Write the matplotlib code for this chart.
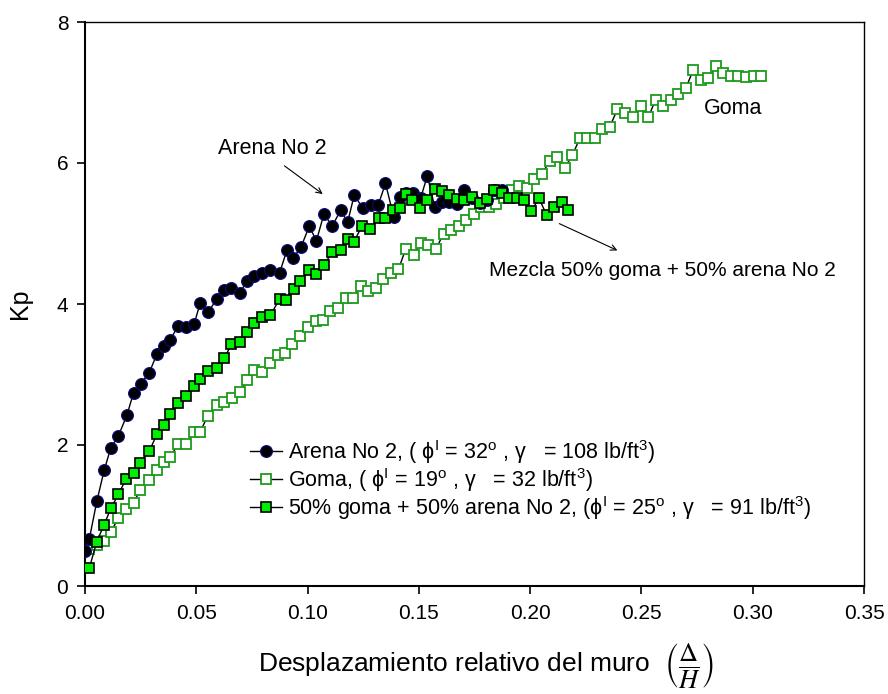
import matplotlib
matplotlib.use('Agg')
import matplotlib.pyplot as plt
import numpy as np

plt.rcParams['font.family'] = ['Liberation Sans', 'DejaVu Sans']
plt.rcParams['mathtext.fontset'] = 'custom'
plt.rcParams['mathtext.rm'] = 'Liberation Sans'
plt.rcParams['mathtext.it'] = 'Liberation Sans:italic'

# Arena No 2
arena_x = [0.000, 0.0019, 0.0053, 0.0086, 0.0116, 0.0150, 0.0188, 0.0218, 0.0250, 0.0288,
           0.0323, 0.0353, 0.0383, 0.0418, 0.0455, 0.0490, 0.0518, 0.0551, 0.0593, 0.0626,
           0.0658, 0.0695, 0.0728, 0.0761, 0.0796, 0.0833, 0.0874, 0.0908, 0.0935, 0.0971,
           0.1007, 0.1040, 0.1073, 0.1112, 0.1148, 0.1180, 0.1210, 0.1247, 0.1286, 0.1317,
           0.1350, 0.1387, 0.1417, 0.1441, 0.1474, 0.1508, 0.1538, 0.1571, 0.1604, 0.1637,
           0.1672, 0.1705, 0.1739, 0.1776, 0.1807, 0.1837, 0.1874]
arena_y = [0.50, 0.66, 1.20, 1.64, 1.96, 2.13, 2.42, 2.74, 2.87, 3.02,
           3.29, 3.41, 3.49, 3.69, 3.68, 3.71, 4.02, 3.88, 4.07, 4.20,
           4.23, 4.16, 4.32, 4.40, 4.44, 4.48, 4.44, 4.77, 4.65, 4.81,
           5.10, 4.90, 5.27, 5.11, 5.33, 5.16, 5.55, 5.36, 5.40, 5.40,
           5.71, 5.24, 5.52, 5.58, 5.58, 5.50, 5.82, 5.38, 5.45, 5.45,
           5.42, 5.61, 5.50, 5.43, 5.48, 5.62, 5.62]

# Goma
goma_x = [0.0019, 0.0053, 0.0086, 0.0116, 0.0150, 0.0185, 0.0218, 0.0248, 0.0288, 0.0323,
          0.0353, 0.0383, 0.0418, 0.0455, 0.0490, 0.0518, 0.0551, 0.0593, 0.0626, 0.0660,
          0.0695, 0.0728, 0.0761, 0.0796, 0.0833, 0.0866, 0.0899, 0.0932, 0.0968, 0.1001,
          0.1036, 0.1068, 0.1103, 0.1136, 0.1171, 0.1205, 0.1238, 0.1273, 0.1306, 0.1339,
          0.1373, 0.1408, 0.1441, 0.1478, 0.1508, 0.1543, 0.1577, 0.1611, 0.1644, 0.1679,
          0.1712, 0.1746, 0.1779, 0.1813, 0.1846, 0.1884, 0.1917, 0.1951, 0.1985, 0.2019,
          0.2053, 0.2087, 0.2121, 0.2155, 0.2190, 0.2223, 0.2257, 0.2290, 0.2324, 0.2357,
          0.2392, 0.2425, 0.2460, 0.2496, 0.2531, 0.2564, 0.2598, 0.2631, 0.2666, 0.2699,
          0.2733, 0.2768, 0.2801, 0.2835, 0.2868, 0.2901, 0.2935, 0.2970, 0.3006, 0.3037]
goma_y = [0.53, 0.58, 0.64, 0.77, 0.96, 1.09, 1.18, 1.36, 1.50, 1.65,
          1.76, 1.83, 2.01, 2.01, 2.19, 2.19, 2.41, 2.57, 2.61, 2.66,
          2.75, 2.92, 3.07, 3.03, 3.16, 3.28, 3.30, 3.43, 3.54, 3.67,
          3.76, 3.77, 3.90, 3.94, 4.08, 4.08, 4.26, 4.18, 4.23, 4.36,
          4.44, 4.49, 4.78, 4.70, 4.87, 4.83, 4.78, 5.00, 5.05, 5.11,
          5.19, 5.28, 5.37, 5.37, 5.42, 5.51, 5.62, 5.67, 5.65, 5.77,
          5.84, 6.03, 6.08, 5.93, 6.11, 6.35, 6.35, 6.35, 6.48, 6.51,
          6.76, 6.71, 6.65, 6.81, 6.65, 6.90, 6.81, 6.90, 6.98, 7.06,
          7.32, 7.18, 7.20, 7.38, 7.27, 7.23, 7.23, 7.22, 7.24, 7.23]

# 50% goma + 50% arena No 2
mezcla_x = [0.0019, 0.0053, 0.0086, 0.0116, 0.0150, 0.0185, 0.0218, 0.0248, 0.0288, 0.0323,
            0.0353, 0.0383, 0.0418, 0.0455, 0.0490, 0.0518, 0.0551, 0.0593, 0.0626, 0.0658,
            0.0695, 0.0728, 0.0761, 0.0796, 0.0833, 0.0874, 0.0905, 0.0938, 0.0968, 0.1007,
            0.1040, 0.1073, 0.1112, 0.1148, 0.1181, 0.1208, 0.1245, 0.1282, 0.1320, 0.1350,
            0.1384, 0.1417, 0.1441, 0.1470, 0.1505, 0.1538, 0.1571, 0.1605, 0.1637, 0.1672,
            0.1705, 0.1739, 0.1774, 0.1807, 0.1837, 0.1874, 0.1904, 0.1939, 0.1972, 0.2005,
            0.2040, 0.2074, 0.2107, 0.2141, 0.2172]
mezcla_y = [0.25, 0.63, 0.87, 1.10, 1.30, 1.52, 1.60, 1.75, 1.91, 2.15,
            2.28, 2.44, 2.59, 2.69, 2.84, 2.94, 3.05, 3.09, 3.23, 3.43,
            3.46, 3.60, 3.73, 3.81, 3.84, 4.07, 4.06, 4.21, 4.32, 4.48,
            4.43, 4.55, 4.74, 4.76, 4.92, 4.88, 5.11, 5.07, 5.22, 5.22,
            5.33, 5.36, 5.56, 5.48, 5.36, 5.48, 5.63, 5.60, 5.55, 5.49,
            5.48, 5.52, 5.43, 5.49, 5.62, 5.58, 5.51, 5.51, 5.48, 5.32,
            5.50, 5.26, 5.38, 5.44, 5.34]

labels = [r'Arena No 2, ( ϕ$^{\rm I}$ = 32$^{\rm o}$ , γ   = 108 lb/ft$^{3}$)',
          r'Goma, ( ϕ$^{\rm I}$ = 19$^{\rm o}$ , γ   = 32 lb/ft$^{3}$)',
          r'50% goma + 50% arena No 2, (ϕ$^{\rm I}$ = 25$^{\rm o}$ , γ   = 91 lb/ft$^{3}$)']

fig = plt.figure(figsize=(8.88, 6.94), dpi=100)
ax = fig.add_axes([85 / 888, 1 - 586 / 694, 779 / 888, 564 / 694])

ax.plot(arena_x, arena_y, color='black', lw=1, marker='o', ms=8.5,
        mfc='black', mec='#0a0a80', mew=0.8, label=labels[0], zorder=3)
ax.plot(goma_x, goma_y, color='black', lw=1, marker='s', ms=6.5,
        mfc='white', mec='#1e9a1e', mew=1.3, label=labels[1], zorder=2)
ax.plot(mezcla_x, mezcla_y, color='black', lw=1, marker='s', ms=6.5,
        mfc='#00ee00', mec='black', mew=1.2, label=labels[2], zorder=4)

ax.set_xlim(0, 0.35)
ax.set_ylim(0, 8)
ax.set_xticks(np.arange(0, 0.351, 0.05))
ax.set_yticks([0, 2, 4, 6, 8])
ax.xaxis.set_major_formatter(matplotlib.ticker.FormatStrFormatter('%.2f'))
ax.tick_params(direction='out', length=6, width=1.2, labelsize=15, top=False, right=False)
ax.tick_params(axis='x', pad=7)
ax.tick_params(axis='y', pad=6)
ax.spines['left'].set_linewidth(1.5)
ax.spines['bottom'].set_linewidth(1.5)
ax.spines['top'].set_linewidth(1.0)
ax.spines['right'].set_linewidth(1.0)

ax.set_ylabel('Kp', fontsize=18, labelpad=18)
ax.set_xlabel(r'Desplazamiento relativo del muro  $\left(\dfrac{\Delta}{H}\right)$',
              fontsize=19, labelpad=13, math_fontfamily='stix')
ax.xaxis.label.set_x(0.515)

leg = ax.legend(loc='upper left', bbox_to_anchor=(0.212, 0.2625), frameon=False,
                fontsize=15.5, handlelength=1.5, handletextpad=0.25,
                labelspacing=0.0, borderpad=0, borderaxespad=0)

ax.annotate('', xy=(0.1068, 5.56), xytext=(0.0896, 5.96),
            arrowprops=dict(arrowstyle='->', color='black', lw=0.8, shrinkA=0, shrinkB=0))
ax.text(0.0842, 6.21, 'Arena No 2', fontsize=15.5, ha='center', va='center')
ax.annotate('', xy=(0.2392, 4.76), xytext=(0.2131, 5.14),
            arrowprops=dict(arrowstyle='->', color='black', lw=0.8, shrinkA=0, shrinkB=0))
ax.text(0.2595, 4.48, 'Mezcla 50% goma + 50% arena No 2', fontsize=15,
        ha='center', va='center')
ax.text(0.291, 6.78, 'Goma', fontsize=15.5, ha='center', va='center')

fig.savefig('out.png', dpi=100)
